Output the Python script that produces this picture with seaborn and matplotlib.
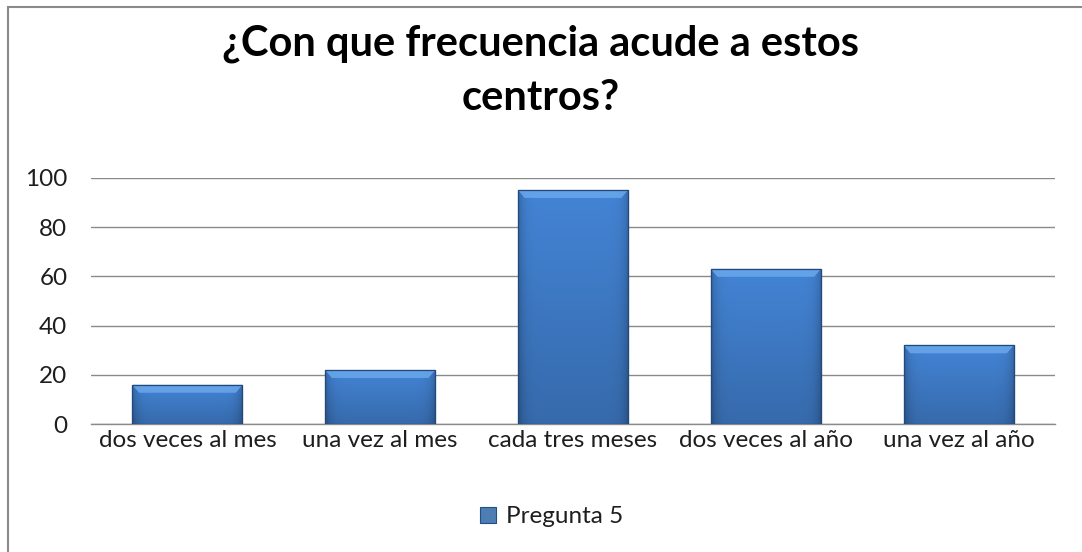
import numpy as np
import pandas as pd
import matplotlib
matplotlib.use("Agg")
import matplotlib.pyplot as plt
import matplotlib.patches as mpatches
import seaborn as sns

categories = ["dos veces al mes", "una vez al mes", "cada tres meses", "dos veces al año", "una vez al año"]
values = [16, 22, 95, 63, 32]
series_name = "Pregunta 5"
title = "¿Con que frecuencia acude a estos\ncentros?"
yticks = [0, 20, 40, 60, 80, 100]

sns.set_theme(style="white")
plt.rcParams['font.family'] = ['Lato', 'DejaVu Sans']

df = pd.DataFrame({"categoria": categories, "valor": values, "serie": series_name})

fig = plt.figure(figsize=(10.82, 5.52), dpi=100)
ax = fig.add_axes([91/1082, 1-424.3/552, 964/1082, 246.6/552])

sns.barplot(data=df, x="categoria", y="valor", hue="serie", palette=["#3D7BC6"],
            width=0.571, ax=ax, edgecolor="#24507f", linewidth=0.8, legend=True, zorder=3)

ax.set_ylim(0, 100)
ax.set_yticks(yticks)
ax.set_xlim(-0.5, len(categories) - 0.5)
ax.set_xlabel("")
ax.set_ylabel("")
ax.yaxis.grid(True, color="#8a8a8a", linewidth=1.0, zorder=0)
ax.set_axisbelow(True)
for s in ["left", "right", "top"]:
    ax.spines[s].set_visible(False)
ax.spines["bottom"].set_color("#8a8a8a")
ax.spines["bottom"].set_linewidth(1.0)
ax.tick_params(axis="both", length=0, labelsize=17.5, colors="#1e1e1e")
ax.tick_params(axis="y", pad=17)
ax.tick_params(axis="x", pad=4)

# gradient/bevel shading derived from each drawn bar
ny, nx = 80, 80
yy = np.linspace(0, 1, ny)[:, None]
xx = np.linspace(0, 1, nx)[None, :]
base = np.array([0.245, 0.48, 0.775])
light = 0.87 + 0.21 * (yy) - 0.22 * (np.abs(xx - 0.5) * 2) ** 10
img = np.clip(base[None, None, :] * light[:, :, None], 0, 1)
for p in list(ax.patches):
    if p.get_height() <= 0:
        continue
    x0, y0 = p.get_x(), p.get_y()
    w, h = p.get_width(), p.get_height()
    im = ax.imshow(img, extent=[x0, x0 + w, y0, y0 + h], origin="lower",
                   aspect="auto", zorder=3.5, interpolation="bilinear")
    im.set_clip_path(p)
    bev = min(h * 0.6, 3.2)
    top = mpatches.Polygon([[x0, y0 + h], [x0 + w, y0 + h],
                            [x0 + w - 0.035, y0 + h - bev], [x0 + 0.035, y0 + h - bev]],
                           closed=True, facecolor="#67a6ea", edgecolor="none", zorder=3.6, alpha=0.9)
    ax.add_patch(top)
    ax.add_patch(mpatches.Rectangle((x0, y0), w, h, fill=False, edgecolor="#22497a",
                                    linewidth=0.9, zorder=3.7))
ax.set_xlim(-0.5, len(categories) - 0.5)
ax.set_ylim(0, 100)

leg = ax.legend(loc="center", bbox_to_anchor=(0.51, 0.064), bbox_transform=fig.transFigure,
                frameon=False, fontsize=17.5, handlelength=0.65, handleheight=0.65,
                handletextpad=0.4, labelcolor="#1e1e1e")

fig.text(0.5, 0.955, title, ha="center", va="top", fontsize=30, fontweight="bold",
         color="#000000", linespacing=1.5)

fig.add_artist(mpatches.Rectangle((8/1082, -0.01), 1.05, 1 - 7/552 + 0.01, transform=fig.transFigure,
                                  fill=False, edgecolor="#8a8a8a", linewidth=1.5))

fig.savefig("out.png", dpi=100, facecolor="white")
